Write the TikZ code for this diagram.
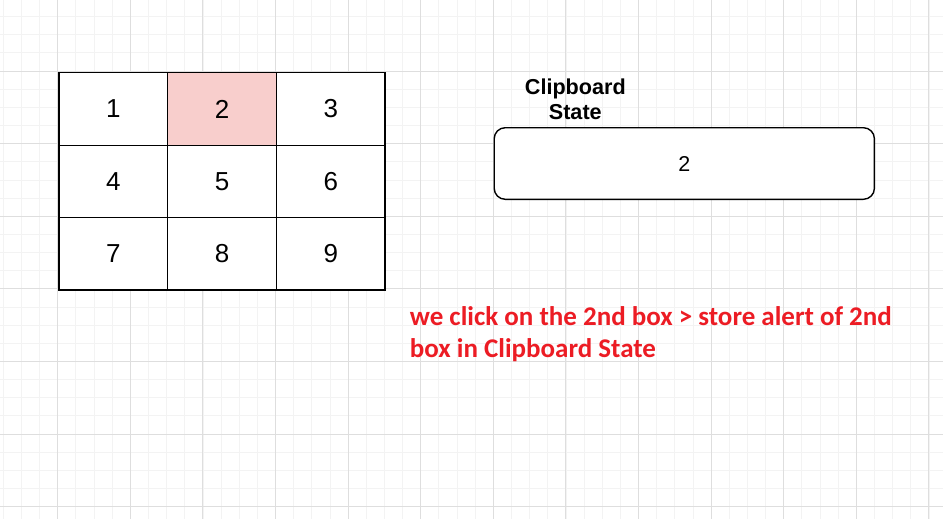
\documentclass[tikz,border=0pt]{standalone}
\usepackage{fontspec}
\setmainfont{Liberation Sans}
\newfontfamily\redfont{Carlito}
\definecolor{gridmajor}{HTML}{DEDEDE}
\definecolor{gridminor}{HTML}{F3F3F3}
\definecolor{cellpink}{HTML}{F8CECC}
\definecolor{notered}{RGB}{236,28,36}
\tikzset{
  minorline/.style={gridminor, line width=0.8pt},
  majorline/.style={gridmajor, line width=0.9pt},
  cell/.style={draw=black, line width=1.4pt, minimum width=108.7pt, minimum height=72.4pt, inner sep=0pt, font=\fontsize{26}{30}\selectfont},
  clipbox/.style={draw=black, line width=1.4pt, rounded corners=11pt, minimum width=380.2pt, minimum height=71.6pt, inner sep=0pt, font=\fontsize{21.5}{25}\selectfont},
  titletext/.style={inner sep=0pt, align=center, font=\fontsize{21.6}{25}\selectfont\bfseries},
  notetext/.style={inner sep=0pt, align=left, text=notered, font=\redfont\fontsize{27}{32}\selectfont\bfseries}
}
\begin{document}
\begin{tikzpicture}[x=1pt,y=-1pt]
\useasboundingbox (0,0) rectangle (943,519);
\fill[white] (0,0) rectangle (943,519);
% grid
\foreach \i in {0,...,52} {\draw[minorline] ({3.25+\i*18.15},0) -- ({3.25+\i*18.15},519);}
\foreach \i in {0,...,28} {\draw[minorline] (0,{-1.6+\i*18.15}) -- (943,{-1.6+\i*18.15});}
\foreach \i in {0,...,12} {\draw[majorline] ({57.7+\i*72.6},0) -- ({57.7+\i*72.6},519);}
\foreach \i in {0,...,6} {\draw[majorline] (0,{71+\i*72.6}) -- (943,{71+\i*72.6});}
% 3x3 table
\node[cell, fill=white] (c1) at (113.35,109.0) {1};
\node[cell, fill=cellpink] (c2) at (222.05,109.0) {2};
\node[cell, fill=white] (c3) at (330.75,109.0) {3};
\node[cell, fill=white] (c4) at (113.35,181.4) {4};
\node[cell, fill=white] (c5) at (222.05,181.4) {5};
\node[cell, fill=white] (c6) at (330.75,181.4) {6};
\node[cell, fill=white] (c7) at (113.35,253.8) {7};
\node[cell, fill=white] (c8) at (222.05,253.8) {8};
\node[cell, fill=white] (c9) at (330.75,253.8) {9};
% clipboard
\node[titletext, anchor=base] (title) at (575.3,120) {Clipboard\\State};
\node[clipbox, fill=white] (clip) at (684.3,163.5) {2};
% note
\node[notetext, anchor=base west] (note) at (409.7,357) {we click on the 2nd box > store alert of 2nd\\box in Clipboard State};
\end{tikzpicture}
\end{document}
